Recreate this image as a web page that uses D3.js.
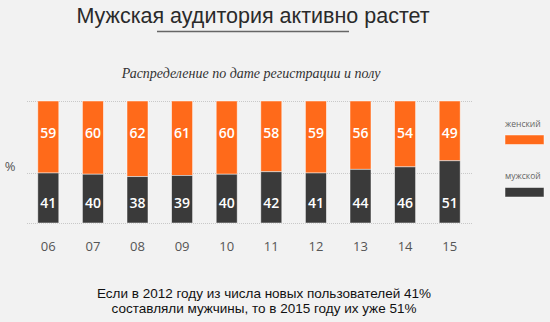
<!DOCTYPE html>
<html>
<head>
<meta charset="utf-8">
<style>
body { margin: 0; background: #f2f2f2; }
svg { display: block; }
.tick-label { font-family: "Open Sans", sans-serif; font-size: 13px; fill: #555; }
.val { font-family: "Open Sans", sans-serif; font-size: 14px; font-weight: 600; fill: #fff; }
.legend-text { font-family: "Open Sans", sans-serif; font-size: 8.5px; fill: #666; }
</style>
<script src="https://d3js.org/d3.v7.min.js"></script>
</head>
<body>
<div id="chart"></div>
<script>

var years = ['06', '07', '08', '09', '10', '11', '12', '13', '14', '15'];
var female = [59, 60, 62, 61, 60, 58, 59, 56, 54, 49];
var male = [41, 40, 38, 39, 40, 42, 41, 44, 46, 51];
var gridValues = [0, 41, 100];
var legendLabels = ['женский', 'мужской'];

var width = 550, height = 322;
var orange = '#ff6a1a', dark = '#3a3a3a';

var svg = d3.select('#chart').append('svg')
    .attr('width', width)
    .attr('height', height);

svg.append('rect').attr('width', width).attr('height', height).attr('fill', '#f2f2f2');

// title
svg.append('text')
    .attr('x', 253).attr('y', 23)
    .attr('text-anchor', 'middle')
    .style('font-family', 'Arial, "Liberation Sans", sans-serif')
    .style('font-size', '21.5px')
    .style('fill', '#2a2a2a')
    .text('Мужская аудитория активно растет');

svg.append('line')
    .attr('x1', 157).attr('x2', 349)
    .attr('y1', 31.5).attr('y2', 31.5)
    .attr('stroke', '#666').attr('stroke-width', 1.5);

svg.append('text')
    .attr('x', 251).attr('y', 78)
    .attr('text-anchor', 'middle')
    .style('font-family', '"Liberation Serif", "DejaVu Serif", serif')
    .style('font-style', 'italic')
    .style('font-size', '14px')
    .style('fill', '#333')
    .text('Распределение по дате регистрации и полу');

var x = d3.scalePoint().domain(years).range([26, 472]).padding(0.5);
var y = d3.scaleLinear().domain([0, 100]).range([223, 101]);
var barW = 21;

// dotted gridlines
svg.append('g').selectAll('line')
  .data(gridValues)
  .enter().append('line')
    .attr('x1', 27).attr('x2', 473)
    .attr('y1', function(d) { return y(d) + 0.5; })
    .attr('y2', function(d) { return y(d) + 0.5; })
    .attr('stroke', '#c8c8c8')
    .attr('stroke-width', 1)
    .attr('stroke-dasharray', '1,1');

var bars = svg.append('g').selectAll('g')
  .data(years)
  .enter().append('g');

// female on top
bars.append('rect')
    .attr('x', function(d) { return x(d) - barW / 2; })
    .attr('y', y(100))
    .attr('width', barW)
    .attr('height', function(d, i) { return y(male[i]) - y(100); })
    .attr('fill', orange)
    .attr('stroke', 'rgba(255,255,255,0.6)')
    .attr('stroke-width', 0.8);

bars.append('rect')
    .attr('x', function(d) { return x(d) - barW / 2; })
    .attr('y', function(d, i) { return y(male[i]); })
    .attr('width', barW)
    .attr('height', function(d, i) { return y(0) - y(male[i]); })
    .attr('fill', dark)
    .attr('stroke', 'rgba(255,255,255,0.6)')
    .attr('stroke-width', 0.8);

bars.append('text')
    .attr('class', 'val')
    .attr('x', function(d) { return x(d); })
    .attr('y', y(74))
    .attr('dy', '0.35em')
    .attr('text-anchor', 'middle')
    .text(function(d, i) { return female[i]; });

bars.append('text')
    .attr('class', 'val')
    .attr('x', function(d) { return x(d); })
    .attr('y', y(16))
    .attr('dy', '0.35em')
    .attr('text-anchor', 'middle')
    .text(function(d, i) { return male[i]; });

// x tick labels
svg.append('g').selectAll('text')
  .data(years)
  .enter().append('text')
    .attr('class', 'tick-label')
    .attr('x', function(d) { return x(d); })
    .attr('y', 246)
    .attr('dy', '0.35em')
    .attr('text-anchor', 'middle')
    .text(function(d) { return d; });

svg.append('text')
    .attr('class', 'tick-label')
    .attr('x', 10).attr('y', 166)
    .attr('dy', '0.35em')
    .attr('text-anchor', 'middle')
    .text('%');

// legend
var legend = svg.append('g').selectAll('g')
  .data(legendLabels)
  .enter().append('g')
    .attr('transform', function(d, i) { return 'translate(505,' + (124 + i * 52.5) + ')'; });

legend.append('text')
    .attr('class', 'legend-text')
    .attr('y', 0)
    .attr('dy', '0.35em')
    .text(function(d) { return d; });

legend.append('rect')
    .attr('y', 11)
    .attr('width', 39)
    .attr('height', 9.5)
    .attr('fill', function(d, i) { return i === 0 ? orange : dark; })
    .attr('stroke', 'rgba(255,255,255,0.6)')
    .attr('stroke-width', 0.8);

// footnote
var note = svg.append('text')
    .attr('text-anchor', 'middle')
    .style('font-family', 'Arial, "Liberation Sans", sans-serif')
    .style('font-size', '13.5px')
    .style('fill', '#111');
note.append('tspan').attr('x', 264).attr('y', 298)
    .text('Если в 2012 году из числа новых пользователей 41%');
note.append('tspan').attr('x', 264).attr('y', 313)
    .text('составляли мужчины, то в 2015 году их уже 51%');

</script>
</body>
</html>
